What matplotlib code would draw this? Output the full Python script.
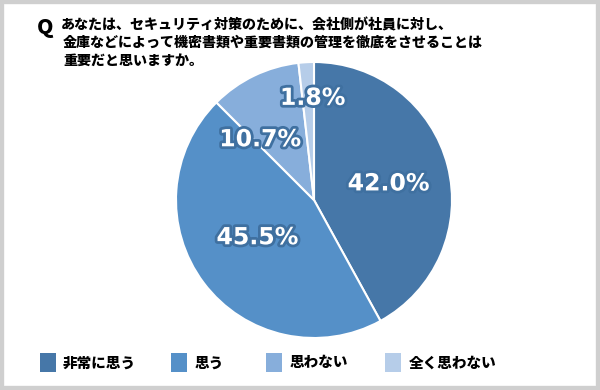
import matplotlib.pyplot as plt
import matplotlib.patheffects as pe
from matplotlib.patches import Rectangle

plt.rcParams['font.family'] = ['Noto Sans CJK JP', 'DejaVu Sans']

categories = ['非常に思う', '思う', '思わない', '全く思わない']
values = [42.0, 45.5, 10.7, 1.8]
colors = ['#4677a8', '#5590c8', '#87aedb', '#b6cde9']

# label positions inside the pie (axes units, radius = 1)
label_xy = [(0.54, 0.12), (-0.41, -0.27), (-0.39, 0.44), (-0.01, 0.74)]

W, H = 600, 390
fig = plt.figure(figsize=(W / 100, H / 100), dpi=100, facecolor='white')
fig.patches.append(Rectangle((0, 0), 1, 1, transform=fig.transFigure, zorder=5,
                             facecolor='none', edgecolor='#cfcfcf', linewidth=6))

# pie: center (314, 200) px, radius 138 px
cx, cy, r = 314, 200, 138
ax = fig.add_axes([(cx - r) / W, 1 - (cy + r) / H, 2 * r / W, 2 * r / H])
ax.pie(values, colors=colors, startangle=90, counterclock=False,
       wedgeprops=dict(edgecolor='white', linewidth=1.5))
ax.set_xlim(-1, 1)
ax.set_ylim(-1, 1)
ax.set_aspect('auto')

for v, (lx, ly) in zip(values, label_xy):
    ax.text(lx, ly, f'{v:.1f}%', ha='center', va='center',
            fontsize=17, fontweight='bold', color='white', family='DejaVu Sans',
            path_effects=[pe.withStroke(linewidth=4, foreground='#3f70a0')])

# title
fig.text(37 / W, 1 - 28 / H, 'Q', fontsize=15, fontweight='black', ha='left', va='center')
title_lines = ['あなたは、セキュリティ対策のために、会社側が社員に対し、',
               '金庫などによって機密書類や重要書類の管理を徹底をさせることは',
               '重要だと思いますか。']
for i, line in enumerate(title_lines):
    x0 = 61 if i == 0 else 63
    fig.text(x0 / W, 1 - (25 + i * 18) / H, line, fontsize=10.1, fontweight='black',
             ha='left', va='center')

# legend
sq_x = [40, 171, 266, 385]
tx_x = [63, 195, 290, 409]
for cat, col, sx, tx in zip(categories, colors, sq_x, tx_x):
    fig.patches.append(Rectangle((sx / W, 1 - 372 / H), 16 / W, 19 / H,
                                 transform=fig.transFigure, facecolor=col, edgecolor='none'))
    fig.text(tx / W, 1 - 363 / H, cat, fontsize=10.5, fontweight='black', ha='left', va='center')

fig.savefig('out.png', dpi=100)
